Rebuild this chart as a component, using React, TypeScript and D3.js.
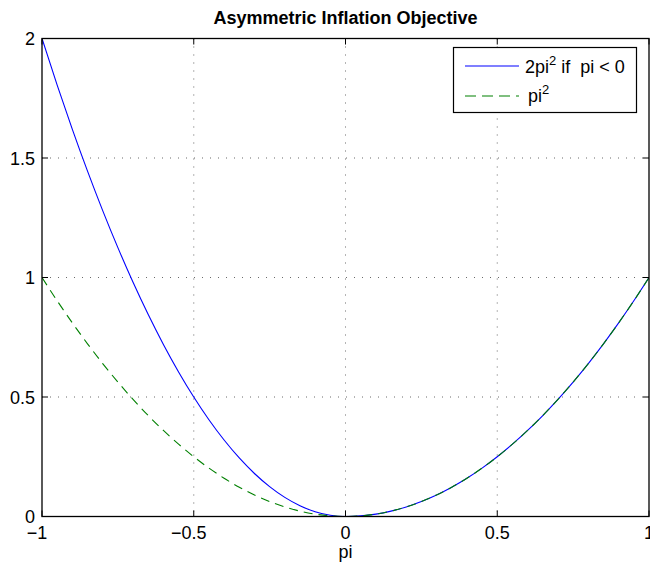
import React from "react";
import * as d3 from "d3";

const piValues = [
  -1, -0.95, -0.9, -0.85, -0.8, -0.75, -0.7, -0.65, -0.6, -0.55, -0.5, -0.45, -0.4, -0.35, -0.3, -0.25,
  -0.2, -0.15, -0.1, -0.05, 0, 0.05, 0.1, 0.15, 0.2, 0.25, 0.3, 0.35, 0.4, 0.45, 0.5, 0.55, 0.6, 0.65,
  0.7, 0.75, 0.8, 0.85, 0.9, 0.95, 1,
];
const asymValues = [
  2, 1.805, 1.62, 1.445, 1.28, 1.125, 0.98, 0.845, 0.72, 0.605, 0.5, 0.405, 0.32, 0.245, 0.18, 0.125,
  0.08, 0.045, 0.02, 0.005, 0, 0.0025, 0.01, 0.0225, 0.04, 0.0625, 0.09, 0.1225, 0.16, 0.2025, 0.25,
  0.3025, 0.36, 0.4225, 0.49, 0.5625, 0.64, 0.7225, 0.81, 0.9025, 1,
];
const symValues = [
  1, 0.9025, 0.81, 0.7225, 0.64, 0.5625, 0.49, 0.4225, 0.36, 0.3025, 0.25, 0.2025, 0.16, 0.1225, 0.09,
  0.0625, 0.04, 0.0225, 0.01, 0.0025, 0, 0.0025, 0.01, 0.0225, 0.04, 0.0625, 0.09, 0.1225, 0.16, 0.2025,
  0.25, 0.3025, 0.36, 0.4225, 0.49, 0.5625, 0.64, 0.7225, 0.81, 0.9025, 1,
];
const xTicks = [-1, -0.5, 0, 0.5, 1];
const yTicks = [0, 0.5, 1, 1.5, 2];

const W = 650;
const H = 569;
const left = 42;
const right = 649;
const top = 38.5;
const bottom = 516.5;
const font = "Arial, 'Liberation Sans', Helvetica, sans-serif";

export default function App() {
  const x = d3.scaleLinear().domain([-1, 1]).range([left, right]);
  const y = d3.scaleLinear().domain([0, 2]).range([bottom, top]);

  const line = d3
    .line<number>()
    .x((_, i) => x(piValues[i]))
    .y((d) => y(d))
    .curve(d3.curveMonotoneX);

  const fmt = (v: number) => (v < 0 ? "\u2212" + Math.abs(v) : String(v));

  return (
    <div style={{ position: "absolute", left: 0, top: 0 }}>
      <svg width={W} height={H} style={{ display: "block", background: "#fff" }}>
        <defs>
          <clipPath id="plotClip">
            <rect x={left} y={top - 1} width={right - left} height={bottom - top + 2} />
          </clipPath>
        </defs>

        {/* grid */}
        {xTicks.slice(1, -1).map((t) => (
          <line key={"gx" + t} x1={x(t)} x2={x(t)} y1={top} y2={bottom}
            stroke="#444" strokeWidth={0.8} strokeDasharray="1,7" />
        ))}
        {yTicks.slice(1, -1).map((t) => (
          <line key={"gy" + t} x1={left} x2={right} y1={y(t)} y2={y(t)}
            stroke="#444" strokeWidth={0.8} strokeDasharray="1,7" />
        ))}

        {/* curves */}
        <g clipPath="url(#plotClip)">
          <path d={line(asymValues) ?? ""} fill="none" stroke="#0000ff" strokeWidth={1.1} />
          <path d={line(symValues) ?? ""} fill="none" stroke="#008000" strokeWidth={1.1} strokeDasharray="9,6" />
        </g>

        {/* tick marks */}
        {xTicks.map((t) => (
          <g key={"tx" + t}>
            <line x1={x(t)} x2={x(t)} y1={bottom} y2={bottom - 6} stroke="#000" />
            <line x1={x(t)} x2={x(t)} y1={top} y2={top + 6} stroke="#000" />
          </g>
        ))}
        {yTicks.map((t) => (
          <g key={"ty" + t}>
            <line x1={left} x2={left + 6} y1={y(t)} y2={y(t)} stroke="#000" />
            <line x1={right} x2={right - 6} y1={y(t)} y2={y(t)} stroke="#000" />
          </g>
        ))}

        {/* axes box */}
        <rect x={left} y={top} width={right - left} height={bottom - top}
          fill="none" stroke="#000" strokeWidth={1.3} />

        {/* tick labels */}
        <g fontFamily={font} fontSize={18} fill="#000">
          {xTicks.map((t) => (
            <text key={"lx" + t} x={x(t) + (t < 0 ? -5 : 0)} y={539} textAnchor="middle">
              {fmt(t)}
            </text>
          ))}
          {yTicks.map((t) => (
            <text key={"ly" + t} x={35} y={y(t) + 6.5} textAnchor="end">
              {fmt(t)}
            </text>
          ))}
          <text x={x(0)} y={558} textAnchor="middle">pi</text>
        </g>

        {/* title */}
        <text x={(left + right) / 2} y={24} textAnchor="middle" fontFamily={font}
          fontSize={18} fontWeight="bold">
          Asymmetric Inflation Objective
        </text>

        {/* legend */}
        <g fontFamily={font} fontSize={18}>
          <rect x={453.5} y={47.5} width={183} height={65} fill="#fff" stroke="#000" strokeWidth={1.2} />
          <line x1={465} x2={519} y1={66} y2={66} stroke="#0000ff" strokeWidth={1.1} />
          <text x={525} y={73} xmlSpace="preserve">
            2pi<tspan fontSize={13} dy={-8}>2</tspan>
            <tspan dy={8}> if  pi &lt; 0</tspan>
          </text>
          <line x1={465} x2={519} y1={96} y2={96} stroke="#008000" strokeWidth={1.1} strokeDasharray="11,6" />
          <text x={528} y={102}>
            pi<tspan fontSize={13} dy={-8}>2</tspan>
          </text>
        </g>
      </svg>
    </div>
  );
}
